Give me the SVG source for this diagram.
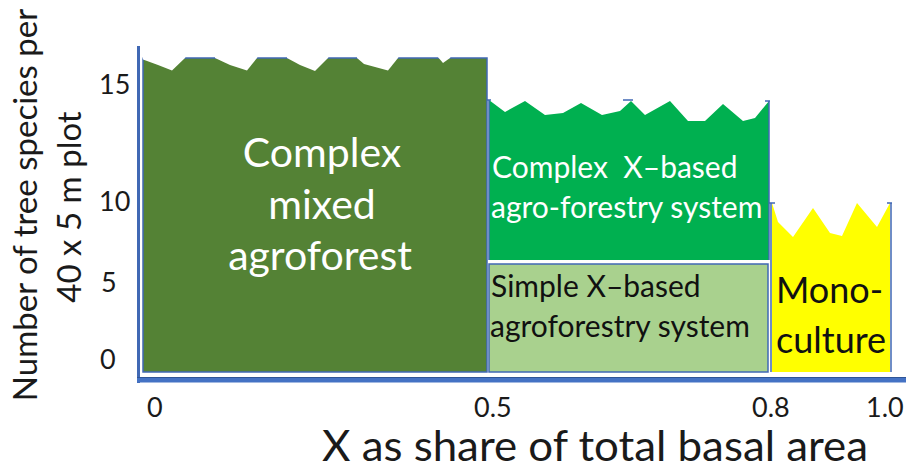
<svg xmlns="http://www.w3.org/2000/svg" width="920" height="471" viewBox="0 0 920 471">
<style>
  text { font-family: Lato, "Open Sans", "Liberation Sans", sans-serif; }
  .tick { font-size: 27px; fill: #1a1a1a; }
  .title { font-size: 42px; fill: #1a1a1a; }
  .ytitle { font-size: 33px; fill: #1a1a1a; }
  .wt { fill: #ffffff; }
  .bk { fill: #111111; }
  .edge { stroke: #4068B4; stroke-width: 1.5; fill: none; }
</style>
<rect width="920" height="471" fill="#ffffff"/>

<g id="complex-mixed-agroforest">
  <path d="M143,58 H487 V372 H143 Z" fill="#548235" stroke="#4068B4" stroke-width="1.5"/>
  <g fill="#ffffff">
    <path d="M142,56 H186 L185,58 L172,70.5 L158,65 L143,59.5 Z"/>
    <path d="M215,56 H258 L257,58 L247,70.5 L230,65 L215,58 Z"/>
    <path d="M287,56 H329 L328,58 L315,71 L300,65 L287,58 Z"/>
    <path d="M357,56 H399 L398,58 L388,70.5 L364,64 L357,58 Z"/>
    <path d="M437,56 H451 L450,58 L443,63 Z"/>
  </g>
  <text class="wt" x="322" y="167" font-size="41" text-anchor="middle">Complex</text>
  <text class="wt" x="322" y="219" font-size="41" text-anchor="middle">mixed</text>
  <text class="wt" x="320" y="270" font-size="41" text-anchor="middle">agroforest</text>
</g>

<g id="complex-x-based">
  <path d="M489,100 L505,112 L525,101 L545,115 L563,113 L581,103 L602,115 L620,111 L631,101 L645,115 L670,101 L688,121 L705,121 L723,104 L743,121 L755,118 L769,101 V260 H489 Z" fill="#00B050"/>
  <path d="M489,100 V260 M769,101 V260 M623,100 H633 M487,100 H491 M765,101 H770" class="edge"/>
  <text class="wt" x="492" y="178" font-size="30" xml:space="preserve">Complex  X–based</text>
  <text class="wt" x="491" y="218" font-size="30">agro-forestry system</text>
</g>

<g id="simple-x-based">
  <rect x="489" y="264" width="279" height="108" fill="#A9D18E" stroke="#4068B4" stroke-width="1.5"/>
  <text class="bk" x="491" y="297" font-size="30">Simple X–based</text>
  <text class="bk" x="490" y="337" font-size="30">agroforestry system</text>
</g>

<g id="monoculture">
  <path d="M772,203 L778,222 L793,237 L813,208 L830,233 L842,236 L857,203 L877,227 L890,203 V372 H772 Z" fill="#FFFF00"/>
  <path d="M771,203 V372 M891,203 V372 M769,203 H775 M887,203 H892" class="edge"/>
  <text class="bk" x="776" y="303" font-size="36">Mono-</text>
  <text class="bk" x="776" y="353" font-size="36">culture</text>
</g>

<g id="axes">
  <line x1="138.5" y1="46" x2="138.5" y2="383" stroke="#4068B4" stroke-width="3"/>
  <line x1="137" y1="380" x2="906" y2="380" stroke="#4472C4" stroke-width="5"/>
  <line x1="137" y1="377.5" x2="906" y2="377.5" stroke="#2F5597" stroke-width="1"/>
  <text class="tick" x="99" y="94">15</text>
  <text class="tick" x="99" y="211">10</text>
  <text class="tick" x="101" y="292">5</text>
  <text class="tick" x="100" y="369">0</text>
  <text class="tick" x="147" y="417">0</text>
  <text class="tick" x="474" y="417">0.5</text>
  <text class="tick" x="752" y="417">0.8</text>
  <text class="tick" x="866" y="417">1.0</text>
  <text class="title" x="322" y="461" textLength="546" lengthAdjust="spacingAndGlyphs">X as share of total basal area</text>
  <text class="ytitle" transform="translate(37,205) rotate(-90)" text-anchor="middle">Number of tree species per</text>
  <text class="ytitle" transform="translate(81,207) rotate(-90)" text-anchor="middle">40 x 5 m plot</text>
</g>
</svg>
